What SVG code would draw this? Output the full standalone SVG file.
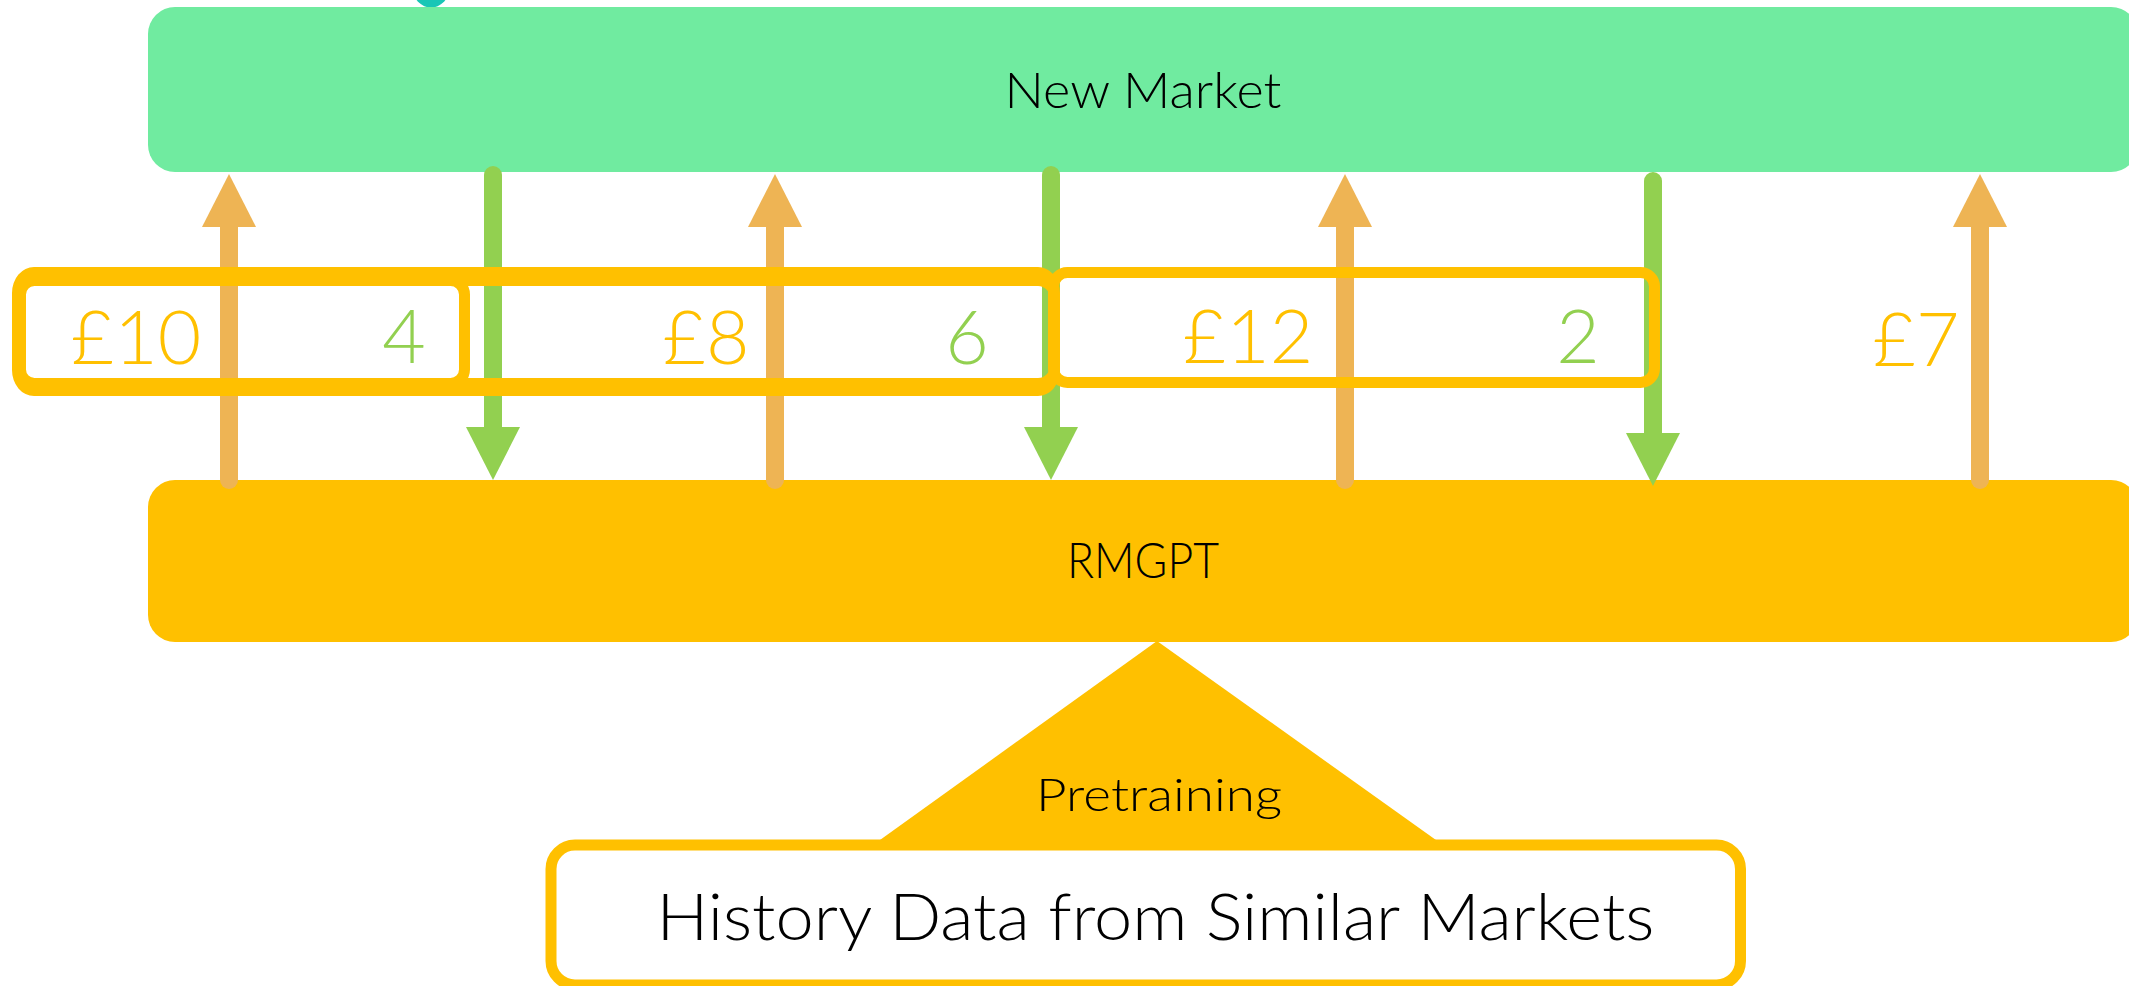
<svg xmlns="http://www.w3.org/2000/svg" width="2129" height="986" viewBox="0 0 2129 986">
  <style>
    .label { font-family: "Lato", "Liberation Sans", sans-serif; font-weight: 300; fill: #000000; }
    .price { font-family: "Lato", "Liberation Sans", sans-serif; font-weight: 300; font-size: 75px; fill: #FFC000; text-anchor: middle; }
    .qty { font-family: "Lato", "Liberation Sans", sans-serif; font-weight: 300; font-size: 75px; fill: #92D050; text-anchor: middle; }
    .up { stroke: #EEB454; stroke-width: 18; stroke-linecap: round; fill: none; marker-end: url(#headUp); }
    .down { stroke: #92D050; stroke-width: 18; stroke-linecap: round; fill: none; marker-end: url(#headDown); }
    .frame { fill: none; stroke: #FFC000; stroke-width: 11; }
  </style>
  <defs>
    <marker id="headUp" markerUnits="userSpaceOnUse" markerWidth="54" markerHeight="54" viewBox="0 0 54 54" refX="0" refY="27" orient="auto">
      <path d="M0,0 L53,27 L0,54 Z" fill="#EEB454"/>
    </marker>
    <marker id="headDown" markerUnits="userSpaceOnUse" markerWidth="54" markerHeight="54" viewBox="0 0 54 54" refX="0" refY="27" orient="auto">
      <path d="M0,0 L53,27 L0,54 Z" fill="#92D050"/>
    </marker>
  </defs>

  <rect width="2129" height="986" fill="#FFFFFF"/>

  <!-- small teal dot peeking over the top edge -->
  <circle cx="431" cy="-10" r="17.5" fill="#19C6B6"/>

  <g id="new-market">
    <rect x="148" y="7" width="1990" height="165" rx="27" fill="#70EBA0"/>
    <text class="label" x="1143" y="108" font-size="49" text-anchor="middle" textLength="277" lengthAdjust="spacingAndGlyphs">New Market</text>
  </g>

  <g id="rmgpt">
    <rect x="148" y="480" width="1990" height="162" rx="27" fill="#FFC000"/>
    <text class="label" x="1143" y="578" font-size="49" text-anchor="middle" textLength="152" lengthAdjust="spacingAndGlyphs">RMGPT</text>
  </g>

  <g id="pretraining">
    <polygon points="1157,641 873,845 1443,845" fill="#FFC000"/>
    <text class="label" x="1159" y="811" font-size="46" text-anchor="middle" textLength="246" lengthAdjust="spacingAndGlyphs">Pretraining</text>
  </g>

  <g id="history-data">
    <rect x="551" y="845" width="1189.5" height="140" rx="24" fill="#FFFFFF" stroke="#FFC000" stroke-width="11"/>
    <text class="label" x="1155.5" y="940" font-size="65" text-anchor="middle" textLength="998" lengthAdjust="spacingAndGlyphs">History Data from Similar Markets</text>
  </g>

  <g id="connectors">
    <!-- prices going up to the market -->
    <line class="up" x1="229" y1="480" x2="229" y2="227"/>
    <line class="up" x1="775" y1="480" x2="775" y2="227"/>
    <line class="up" x1="1345" y1="480" x2="1345" y2="227"/>
    <line class="up" x1="1980" y1="480" x2="1980" y2="227"/>
    <!-- quantities coming back down -->
    <line class="down" x1="493" y1="175" x2="493" y2="427"/>
    <line class="down" x1="1051" y1="175" x2="1051" y2="427"/>
    <line class="down" x1="1653" y1="181" x2="1653" y2="433"/>
  </g>

  <g id="pair-1">
    <rect class="frame" x="20.5" y="280.5" width="444" height="103" rx="14"/>
    <text class="price" x="136" y="364">£10</text>
    <text class="qty" x="404" y="363">4</text>
  </g>

  <g id="pair-2">
    <path fill="#FFC000" fill-rule="evenodd" d="M34,267 H1038 A22,26 0 0 1 1060,293 V370 A22,26 0 0 1 1038,396 H34 A22,26 0 0 1 12,370 V293 A22,26 0 0 1 34,267 Z M34,286 H1038 A12,12 0 0 1 1050,298 V366 A12,12 0 0 1 1038,378 H34 A12,12 0 0 1 22,366 V298 A12,12 0 0 1 34,286 Z"/>
    <text class="price" x="706" y="364">£8</text>
    <text class="qty" x="967" y="364">6</text>
  </g>

  <g id="pair-3">
    <rect class="frame" x="1053.5" y="272.5" width="601" height="110" rx="14"/>
    <text class="price" x="1248" y="363">£12</text>
    <text class="qty" x="1578" y="363">2</text>
  </g>

  <g id="price-4">
    <text class="price" x="1916" y="366">£7</text>
  </g>
</svg>
